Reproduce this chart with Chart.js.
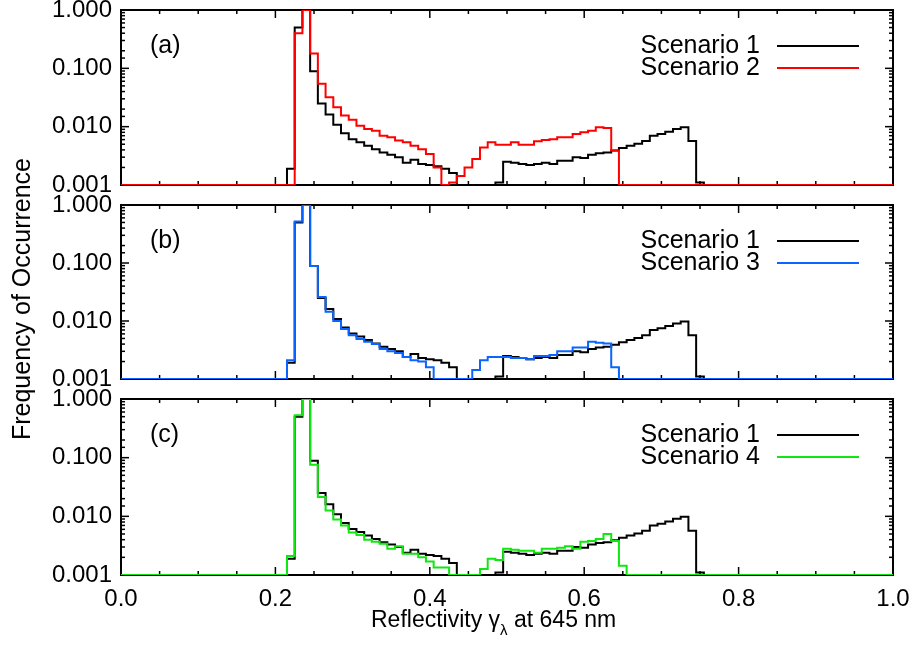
<!DOCTYPE html>
<html>
<head>
<meta charset="utf-8">
<script src="https://cdn.jsdelivr.net/npm/chart.js@4.4.0/dist/chart.umd.min.js"></script>
<style>
  body { margin: 0; background: #fff; }
  #wrap { position: relative; width: 916px; height: 648px; overflow: hidden; background: #fff;
          font-family: "Liberation Sans", Arial, sans-serif; color: #000; }
  canvas { position: absolute; left: 0; }
  #ytitle { position: absolute; left: -179px; top: 286px; width: 400px; height: 26px; line-height: 26px;
            font-size: 25px; text-align: center; transform: rotate(-90deg); white-space: nowrap; }
  #xtitle { position: absolute; left: 371px; top: 608px; height: 23px; line-height: 23px;
            font-size: 23px; white-space: nowrap; }
  #xtitle sub { font-size: 15px; position: relative; top: 2px; }
</style>
</head>
<body>
<div id="wrap">
  <canvas id="panelA" width="916" height="225" style="top:-15px"></canvas>
  <canvas id="panelB" width="916" height="224" style="top:180px"></canvas>
  <canvas id="panelC" width="920" height="274" style="top:374px"></canvas>
  <div id="ytitle">Frequency of Occurrence</div>
  <div id="xtitle">Reflectivity γ<sub>λ</sub> at 645 nm</div>
</div>
<script>
// histogram bin centres (reflectivity), empty bins sit on the 0.001 floor
const F = 0.001;
const reflectivity = [0.00, 0.21, 0.22, 0.23, 0.24, 0.25, 0.26, 0.27, 0.28, 0.29,
  0.30, 0.31, 0.32, 0.33, 0.34, 0.35, 0.36, 0.37, 0.38, 0.39,
  0.40, 0.41, 0.42, 0.43, 0.44, 0.45, 0.46, 0.47, 0.48, 0.49,
  0.50, 0.51, 0.52, 0.53, 0.54, 0.55, 0.56, 0.57, 0.58, 0.59,
  0.60, 0.61, 0.62, 0.63, 0.64, 0.65, 0.66, 0.67, 0.68, 0.69,
  0.70, 0.71, 0.72, 0.73, 0.74, 0.75, 0.76, 1.00];

const scenario1 = [F, F, 0.0019, 0.50, 1.0, 0.089, 0.025, 0.0161, 0.0108, 0.0077,
  0.0061, 0.0054, 0.0047, 0.0041, 0.0036, 0.0033, 0.0030, 0.0024, 0.0027, 0.0023,
  0.0022, 0.0021, 0.0019, 0.0016, F, F, F, F, F, 0.0011,
  0.0025, 0.0024, 0.0023, 0.0022, 0.0023, 0.0024, 0.0023, 0.0026, 0.0026, 0.0030,
  0.0029, 0.0033, 0.0035, 0.0036, 0.0039, 0.0043, 0.0047, 0.0051, 0.0057, 0.0070,
  0.0075, 0.0082, 0.0091, 0.0098, 0.0057, 0.0011, F, F];

const scenario2 = [F, F, F, 0.40, 1.0, 0.18, 0.0545, 0.032, 0.0215, 0.0155,
  0.0132, 0.0104, 0.0091, 0.0085, 0.0070, 0.0066, 0.0058, 0.0054, 0.0047, 0.0041,
  0.0034, 0.0020, F, 0.0011, 0.00143, 0.0020, 0.0028, 0.0044, 0.0054, 0.0049,
  0.0049, 0.0054, 0.0049, 0.0049, 0.0056, 0.0059, 0.0061, 0.0066, 0.0066, 0.0075,
  0.0080, 0.0085, 0.0098, 0.0095, 0.0039, F, F, F, F, F,
  F, F, F, F, F, F, F, F];

const scenario3 = [F, F, 0.0021, 0.52, 1.0, 0.089, 0.026, 0.0145, 0.0100, 0.0073,
  0.0057, 0.0049, 0.0044, 0.0040, 0.0033, 0.0030, 0.0028, 0.0024, 0.0021, 0.0020,
  0.0016, F, F, F, F, F, 0.00143, 0.0021, 0.0024, 0.0024,
  0.0024, 0.0023, 0.0023, 0.0022, 0.0025, 0.0025, 0.0026, 0.0030, 0.0030, 0.0035,
  0.0035, 0.0044, 0.0042, 0.0041, 0.0016, F, F, F, F, F,
  F, F, F, F, F, F, F, F];

const scenario4 = [F, F, 0.0021, 0.53, 1.0, 0.076, 0.0213, 0.0126, 0.0088, 0.0070,
  0.0053, 0.0048, 0.0040, 0.0037, 0.0034, 0.0028, 0.0031, 0.0023, 0.0023, 0.0020,
  0.0017, 0.00134, 0.00134, F, F, F, F, 0.00126, 0.0019, 0.0018,
  0.0028, 0.0027, 0.0026, 0.0026, 0.0024, 0.0028, 0.0028, 0.0029, 0.0031, 0.0028,
  0.0037, 0.0038, 0.0041, 0.0050, 0.0038, 0.00144, F, F, F, F,
  F, F, F, F, F, F, F, F];

const xTickLabels = ['0.0', '0.2', '0.4', '0.6', '0.8', '1.0'];
const yTickLabels = ['0.001', '0.010', '0.100', '1.000'];

const FONT = '"Liberation Sans", Arial, sans-serif';

const isDecade = (v) => Math.abs(Math.log10(v) - Math.round(Math.log10(v))) < 1e-6;

const framePlugin = {
  id: 'frame',
  beforeDatasetsDraw(chart) {
    const { ctx, chartArea: a, scales } = chart;
    const line = (x1, y1, x2, y2) => { ctx.beginPath(); ctx.moveTo(x1, y1); ctx.lineTo(x2, y2); ctx.stroke(); };
    ctx.save();
    ctx.strokeStyle = '#000';
    ctx.lineWidth = 1.5;
    scales.y.ticks.forEach(t => {
      const py = scales.y.getPixelForValue(t.value);
      const len = isDecade(t.value) ? 8 : 4;
      line(a.left, py, a.left + len, py);
      line(a.right, py, a.right - len, py);
    });
    for (let i = 0; i <= 20; i++) {
      const px = scales.x.getPixelForValue(i * 0.05);
      const len = i % 4 === 0 ? 8 : 4;
      line(px, a.bottom, px, a.bottom - len);
      line(px, a.top, px, a.top + len);
    }
    ctx.lineWidth = 2;
    ctx.strokeRect(a.left, a.top, a.right - a.left, a.bottom - a.top);
    ctx.restore();
  },
  afterDatasetsDraw(chart, args, opts) {
    const { ctx, chartArea: a } = chart;
    ctx.save();
    ctx.font = '25px ' + FONT;
    ctx.fillStyle = '#000';
    ctx.textBaseline = 'alphabetic';
    ctx.textAlign = 'left';
    ctx.fillText(opts.tag, 150, a.top + 43);
    ctx.textAlign = 'right';
    chart.data.datasets.forEach((ds, i) => {
      const base = a.top + 43 + i * 22;
      ctx.fillText(ds.label, 760, base);
      ctx.strokeStyle = ds.borderColor;
      ctx.lineWidth = 2.2;
      ctx.beginPath();
      ctx.moveTo(777, base - 7);
      ctx.lineTo(859, base - 7);
      ctx.stroke();
    });
    ctx.restore();
  }
};

const toPoints = (vals) => reflectivity.map((x, i) => ({ x: x, y: vals[i] }));

function makePanel(id, tag, label, values, color, showX) {
  const xScale = {
    type: 'linear', min: 0, max: 1, display: showX,
    grid: { display: false, drawTicks: false },
    border: { display: false },
    ticks: {
      stepSize: 0.2, padding: 10, maxRotation: 0, color: '#000',
      font: { family: FONT, size: 24 },
      callback: (v) => xTickLabels[Math.round(v / 0.2)]
    }
  };
  if (showX) xScale.afterFit = (s) => { s.height = 73; };

  return new Chart(document.getElementById(id), {
    type: 'line',
    data: {
      datasets: [
        { label: 'Scenario 1', data: toPoints(scenario1), borderColor: '#000', borderWidth: 2, order: 2 },
        { label: label, data: toPoints(values), borderColor: color, borderWidth: 2, order: 1 }
      ]
    },
    options: {
      responsive: false,
      animation: false,
      devicePixelRatio: 1,
      layout: { padding: { top: 25, right: showX ? 27 : 23, bottom: showX ? 0 : 25, left: 0 } },
      elements: { point: { radius: 0 }, line: { stepped: 'middle', tension: 0 } },
      plugins: {
        legend: { display: false },
        tooltip: { enabled: false },
        frame: { tag: tag }
      },
      scales: {
        x: xScale,
        y: {
          type: 'logarithmic', min: 0.001, max: 1,
          afterFit: (s) => { s.width = 121; },
          grid: { display: false, drawTicks: false },
          border: { display: false },
          ticks: {
            autoSkip: false, padding: 9, color: '#000',
            font: { family: FONT, size: 24 },
            callback: (v) => isDecade(v) ? yTickLabels[Math.round(Math.log10(v)) + 3] : ''
          }
        }
      }
    },
    plugins: [framePlugin]
  });
}

makePanel('panelA', '(a)', 'Scenario 2', scenario2, '#ff0000', false);
makePanel('panelB', '(b)', 'Scenario 3', scenario3, '#0a64ff', false);
makePanel('panelC', '(c)', 'Scenario 4', scenario4, '#11e611', true);
</script>
</body>
</html>
